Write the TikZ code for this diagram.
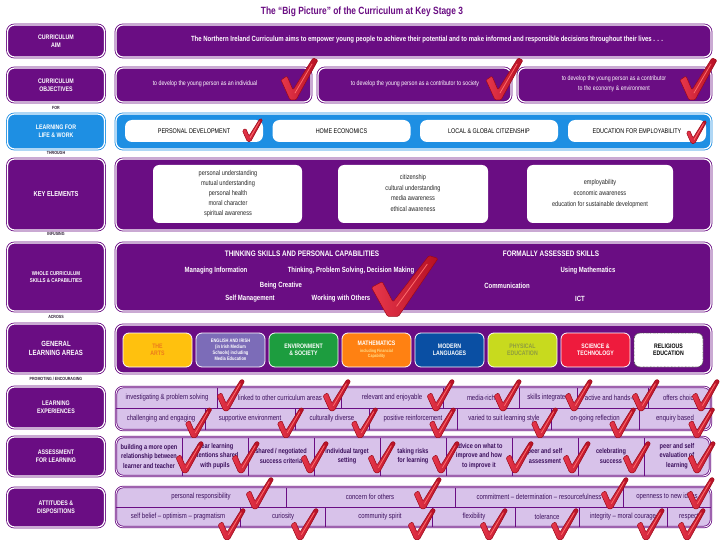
\documentclass[tikz,border=0pt]{standalone}
\usepackage{fontspec}
\setmainfont{Liberation Sans}[FakeStretch=0.8]
\definecolor{pp}{HTML}{6A0D83}
\definecolor{lav}{HTML}{D8C2EA}
\definecolor{celltxt}{HTML}{3B0F5C}
\definecolor{llw}{HTML}{1E8FE3}
\definecolor{chkred}{HTML}{E3142C}
\definecolor{chkdark}{HTML}{9A0818}
\definecolor{chklight}{HTML}{FF6B6B}
\definecolor{lbltxt}{HTML}{2B1B33}
\definecolor{arts}{HTML}{FFC10E}
\definecolor{artstxt}{HTML}{EC7A1C}
\definecolor{eng}{HTML}{7C6CB8}
\definecolor{env}{HTML}{1D9D3F}
\definecolor{maths}{HTML}{FF8112}
\definecolor{mathsub}{HTML}{FFE08A}
\definecolor{mfl}{HTML}{0A4FA3}
\definecolor{pe}{HTML}{C8DA1E}
\definecolor{petxt}{HTML}{8E9B40}
\definecolor{sci}{HTML}{EE1B3D}
\newcommand\chkmark[4]{%
  \begin{scope}[shift={(#1,#2)},xscale=#3,yscale=#4]
    \shadedraw[left color=chkred!85!white,right color=chkred!80!black,draw=chkdark,line width=0.5pt,rounded corners=1.2pt]
      (-12,-19) -- (-6,-23) -- (0,-9) -- (20,-41) -- (25,-39) -- (3,1) -- (-3,1) -- cycle;
    \draw[chklight,line width=0.8pt,line cap=round] (2,-6) -- (19,-35);
  \end{scope}}
\begin{document}
\begin{tikzpicture}[x=1pt,y=-1pt,
  pbox/.style={draw=pp,line width=0.8pt,double=white,double distance=1.2pt,fill=pp,rounded corners=7pt,inner sep=0pt},
  lbox/.style={pbox,text=white,align=center,minimum width=97pt,font=\fontsize{6.6}{8}\selectfont\bfseries},
  pill/.style={fill=white,rounded corners=7pt,minimum width=138pt,minimum height=22pt,inner sep=0pt,font=\fontsize{6.8}{7}\selectfont},
  wbox/.style={fill=white,rounded corners=6pt,minimum height=58pt,inner sep=0pt},
  ketxt/.style={align=center,text=black!85,inner sep=0pt,font=\fontsize{7}{10}\selectfont},
  glabox/.style={draw=white,line width=0.8pt,rounded corners=6pt,minimum width=69pt,minimum height=34pt,inner sep=0pt,align=center,font=\fontsize{6.5}{7.5}\selectfont\bfseries},
  lavbox/.style={draw=pp,line width=0.8pt,double=white,double distance=0.8pt,fill=lav,rounded corners=7pt,inner sep=0pt},
  cell/.style={draw=pp,line width=0.5pt},
  ctxt/.style={text=celltxt,font=\fontsize{7.5}{8}\selectfont,inner sep=0pt},
  atxt/.style={text=celltxt,font=\fontsize{7}{9.5}\selectfont\bfseries,align=center,inner sep=0pt},
  wtxt/.style={text=white,font=\fontsize{7.5}{8}\selectfont\bfseries,inner sep=0pt},
  otxt/.style={text=white,font=\fontsize{6.6}{10}\selectfont,align=center,inner sep=0pt},
  conn/.style={text=lbltxt,font=\fontsize{4.5}{5}\selectfont\bfseries,inner sep=0pt},
]
\useasboundingbox (0,0) rectangle (720,540);
\fill[white] (0,0) rectangle (720,540);

\node[text=pp,font=\fontsize{10.5}{11}\selectfont\bfseries] (title) at (362,12) {The “Big Picture” of the Curriculum at Key Stage 3};

% left labels
\node[lbox,minimum height=32pt] (aimL) at (56,41) {CURRICULUM\\AIM};
\node[lbox,minimum height=34pt] (objL) at (56,85) {CURRICULUM\\OBJECTIVES};
\node[lbox,draw=llw,fill=llw,minimum height=35pt] (llwL) at (56,131.5) {LEARNING FOR\\LIFE \& WORK};
\node[lbox,minimum height=71pt,font=\fontsize{7.2}{8}\selectfont\bfseries] (keL) at (56,194.5) {KEY ELEMENTS};
\node[lbox,minimum height=68pt,font=\fontsize{5.6}{7.5}\selectfont\bfseries] (wcL) at (56,277) {WHOLE CURRICULUM\\SKILLS \& CAPABILITIES};
\node[lbox,minimum height=49pt,font=\fontsize{7.5}{9}\selectfont\bfseries] (glaL) at (56,348.5) {GENERAL\\LEARNING AREAS};
\node[lbox,minimum height=41pt] (leL) at (56,407.5) {LEARNING\\EXPERIENCES};
\node[lbox,minimum height=39pt] (aflL) at (56,456.5) {ASSESSMENT\\FOR LEARNING};
\node[lbox,minimum height=39pt] (adL) at (56,507.5) {ATTITUDES \&\\DISPOSITIONS};

\node[conn] (for) at (56,107.5) {FOR};
\node[conn] (through) at (56,153) {THROUGH};
\node[conn] (infusing) at (56,234) {INFUSING};
\node[conn] (across) at (56,317) {ACROSS};
\node[conn] (promo) at (56,378.5) {PROMOTING / ENCOURAGING};

% aim
\node[pbox,minimum width=595pt,minimum height=32pt] (aimM) at (413.5,41) {};
\node[wtxt,font=\fontsize{7.5}{8}\selectfont\bfseries] (aimT) at (427,40) {The Northern Ireland Curriculum aims to empower young people to achieve their potential and to make informed and responsible decisions throughout their lives . . .};

% objectives
\node[pbox,minimum width=195pt,minimum height=34pt] (ob1) at (213.5,85) {};
\node[pbox,minimum width=193pt,minimum height=34pt] (ob2) at (414.5,85) {};
\node[pbox,minimum width=193pt,minimum height=34pt] (ob3) at (614.5,85) {};
\node[otxt] (ob1t) at (205,84) {to develop the young person as an individual};
\node[otxt] (ob2t) at (415,84) {to develop the young person as a contributor to society};
\node[otxt] (ob3t) at (614,84) {to develop the young person as a contributor\\to the economy \& environment};

% learning for life and work
\node[pbox,draw=llw,fill=llw,minimum width=595pt,minimum height=35pt] (llwM) at (413.5,131.5) {};
\node[pill] (p1) at (194,131) {PERSONAL DEVELOPMENT};
\node[pill] (p2) at (341.5,131) {HOME ECONOMICS};
\node[pill] (p3) at (489,131) {LOCAL \& GLOBAL CITIZENSHIP};
\node[pill] (p4) at (637,131) {EDUCATION FOR EMPLOYABILITY};

% key elements
\node[pbox,minimum width=595pt,minimum height=71pt] (keM) at (413.5,194.5) {};
\node[wbox,minimum width=149pt] (wb1) at (227.5,194) {};
\node[wbox,minimum width=150pt] (wb2) at (413,194) {};
\node[wbox,minimum width=146pt] (wb3) at (600,194) {};
\begin{scope}
\clip (153,165) rectangle (302,217.5);
\node[ketxt] (ke1) at (228,194) {personal understanding\\mutual understanding\\personal health\\moral character\\spiritual awareness};
\end{scope}
\node[ketxt,font=\fontsize{7}{10.7}\selectfont] (ke2) at (413,193) {citizenship\\cultural understanding\\media awareness\\ethical awareness};
\node[ketxt,font=\fontsize{7}{11}\selectfont] (ke3) at (600,194) {employability\\economic awareness\\education for sustainable development};

% whole curriculum skills
\node[pbox,minimum width=595pt,minimum height=68pt] (wcM) at (413.5,277) {};
\node[wtxt,font=\fontsize{8}{9}\selectfont\bfseries] (th) at (302,254) {THINKING SKILLS AND PERSONAL CAPABILITIES};
\node[wtxt,font=\fontsize{8}{9}\selectfont\bfseries] (fa) at (551,254) {FORMALLY ASSESSED SKILLS};
\node[wtxt] (w1) at (216,271) {Managing Information};
\node[wtxt] (w2) at (351,271) {Thinking, Problem Solving, Decision Making};
\node[wtxt] (w3) at (588,271) {Using Mathematics};
\node[wtxt] (w4) at (281,286) {Being Creative};
\node[wtxt] (w5) at (507,286) {Communication};
\node[wtxt] (w6) at (250,299) {Self Management};
\node[wtxt] (w7) at (341,299) {Working with Others};
\node[wtxt] (w8) at (580,299) {ICT};

% general learning areas
\node[pbox,minimum width=595pt,minimum height=48pt] (glaM) at (413.5,349) {};
\node[glabox,fill=arts,text=artstxt] (g1) at (157.5,350) {THE\\ARTS};
\node[glabox,fill=eng,text=white,font=\fontsize{5}{6}\selectfont\bfseries] (g2) at (230.5,350) {ENGLISH AND IRISH\\(in Irish Medium\\Schools) including\\Media Education};
\node[glabox,fill=env,text=white] (g3) at (303.5,350) {ENVIRONMENT\\\& SOCIETY};
\node[glabox,fill=maths,text=white] (g4) at (376.5,350) {MATHEMATICS\\[-1pt]{\color{mathsub}\fontsize{4.5}{5.5}\selectfont including Financial}\\[-2pt]{\color{mathsub}\fontsize{4.5}{5.5}\selectfont Capability}};
\node[glabox,fill=mfl,text=white] (g5) at (449.5,350) {MODERN\\LANGUAGES};
\node[glabox,fill=pe,text=petxt] (g6) at (522.5,350) {PHYSICAL\\EDUCATION};
\node[glabox,fill=sci,text=white] (g7) at (595.5,350) {SCIENCE \&\\TECHNOLOGY};
\node[glabox,fill=white,text=black,draw=black!70,dash pattern=on 0.7pt off 0.7pt] (g8) at (668.5,350) {RELIGIOUS\\EDUCATION};

% learning experiences
\node[lavbox,minimum width=595pt,minimum height=43pt] (leM) at (413.5,408.5) {};
\draw[cell] (leM.west) -- (leM.east);
\foreach \x in {217,341,443,519,577,648} \draw[cell] (\x,387.5) -- (\x,408.5);
\foreach \x in {205,295,369,457,551,639} \draw[cell] (\x,408.5) -- (\x,429.5);
\node[ctxt] (le1) at (167,398) {investigating \& problem solving};
\node[ctxt] (le2) at (280,398) {linked to other curriculum areas};
\node[ctxt] (le3) at (392,398) {relevant and enjoyable};
\node[ctxt] (le4) at (481,398) {media-rich};
\node[ctxt] (le5) at (548,398) {skills integrated};
\node[ctxt] (le6) at (612,398) {active and hands-on};
\node[ctxt] (le7) at (680,398) {offers choice};
\node[ctxt] (le8) at (161,419) {challenging and engaging};
\node[ctxt] (le9) at (250,419) {supportive environment};
\node[ctxt] (le10) at (332,419) {culturally diverse};
\node[ctxt] (le11) at (413,419) {positive reinforcement};
\node[ctxt] (le12) at (504,419) {varied to suit learning style};
\node[ctxt] (le13) at (595,419) {on-going reflection};
\node[ctxt] (le14) at (675,419) {enquiry based};

% assessment for learning
\node[lavbox,minimum width=594pt,minimum height=39pt] (aflM) at (413,456.5) {};
\foreach \k in {1,...,8} \draw[cell] ({116+66*\k},437.5) -- ({116+66*\k},475.5);
\node[atxt] (a1) at (149,456) {building a more open\\relationship between\\learner and teacher};
\node[atxt] (a2) at (215,456) {clear learning\\intentions shared\\with pupils};
\node[atxt] (a3) at (281,456) {shared / negotiated\\success criteria};
\node[atxt] (a4) at (347,456) {individual target\\setting};
\node[atxt] (a5) at (413,456) {taking risks\\for learning};
\node[atxt] (a6) at (479,456) {advice on what to\\improve and how\\to improve it};
\node[atxt] (a7) at (545,456) {peer and self\\assessment};
\node[atxt] (a8) at (611,456) {celebrating\\success};
\node[atxt] (a9) at (677,456) {peer and self\\evaluation of\\learning};

% attitudes and dispositions
\node[lavbox,minimum width=595pt,minimum height=40pt] (adM) at (413.5,507) {};
\draw[cell] (adM.west) -- (adM.east);
\foreach \x in {286,455,623} \draw[cell] (\x,487.5) -- (\x,507);
\foreach \x in {240,325,432,515,579,667} \draw[cell] (\x,507) -- (\x,526.5);
\node[ctxt] (d1) at (201,497) {personal responsibility};
\node[ctxt] (d2) at (370,497) {concern for others};
\node[ctxt] (d3) at (539,497) {commitment – determination – resourcefulness};
\node[ctxt] (d4) at (667,497) {openness to new ideas};
\node[ctxt] (d5) at (178,517) {self belief – optimism – pragmatism};
\node[ctxt] (d6) at (283,517) {curiosity};
\node[ctxt] (d7) at (380,517) {community spirit};
\node[ctxt] (d8) at (474,517) {flexibility};
\node[ctxt] (d9) at (547,517) {tolerance};
\node[ctxt] (d10) at (623,517) {integrity – moral courage};
\node[ctxt] (d11) at (689,517) {respect};

% check marks
\chkmark{293}{99}{1}{1}
\chkmark{498}{99}{1}{1}
\chkmark{692}{99}{1}{1}
\chkmark{249}{141}{0.55}{0.55}
\chkmark{693}{143}{0.55}{0.55}
\chkmark{393}{315}{1.8}{1.45}
\foreach \x in {226,332,436,503,574,641,701} {\chkmark{\x}{410}{0.75}{0.75}}
\foreach \x in {194,286,360,438,540,618,697} {\chkmark{\x}{437}{0.72}{0.72}}
\foreach \x in {185,241,310,377,441,515,572,632,697} {\chkmark{\x}{472}{0.75}{0.75}}
\foreach \x in {255,423,610,696} {\chkmark{\x}{508}{0.75}{0.75}}
\foreach \x in {227,300,417,489,560,646,687} {\chkmark{\x}{539}{0.75}{0.75}}
\end{tikzpicture}
\end{document}
